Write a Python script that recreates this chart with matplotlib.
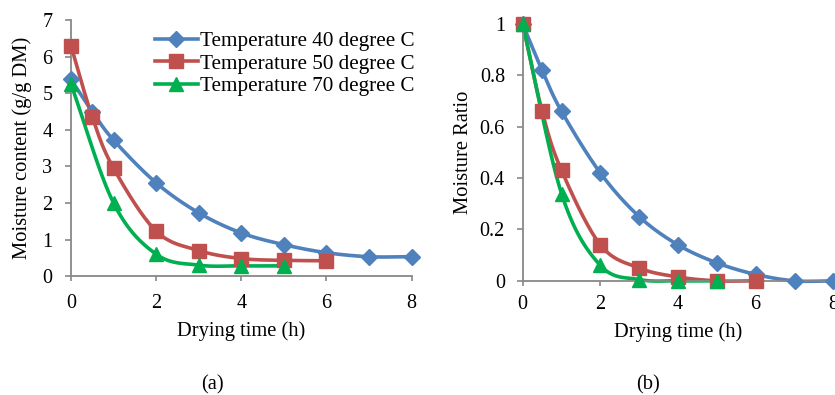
import numpy as np
import matplotlib.pyplot as plt

plt.rcParams['font.family'] = ['Liberation Serif', 'DejaVu Serif']

# Drying times (h)
t40 = [0, 0.5, 1, 2, 3, 4, 5, 6, 7, 8]
t50 = [0, 0.5, 1, 2, 3, 4, 5, 6]
t70 = [0, 1, 2, 3, 4, 5]

# Moisture content (g/g DM)
mc40 = [5.38, 4.50, 3.72, 2.55, 1.73, 1.18, 0.86, 0.64, 0.53, 0.53]
mc50 = [6.30, 4.35, 2.95, 1.23, 0.70, 0.48, 0.43, 0.42]
mc70 = [5.25, 2.00, 0.60, 0.30, 0.28, 0.28]

# Moisture ratio
mr40 = [1.0, 0.82, 0.66, 0.42, 0.25, 0.14, 0.07, 0.025, 0.0, 0.0]
mr50 = [1.0, 0.66, 0.43, 0.14, 0.05, 0.015, 0.0, 0.0]
mr70 = [1.0, 0.34, 0.06, 0.005, 0.0, 0.0]

labels = ['Temperature 40 degree C', 'Temperature 50 degree C', 'Temperature 70 degree C']
colors = ['#4F81BD', '#C0504D', '#00B050']
markers = ['D', 's', '^']
msizes = [8.5, 10, 10]


def smooth(x, y, n=20):
    # Catmull-Rom style curve, like the "smoothed line" option of a spreadsheet chart
    x = np.asarray(x, float)
    y = np.asarray(y, float)
    px = np.concatenate([[2 * x[0] - x[1]], x, [2 * x[-1] - x[-2]]])
    py = np.concatenate([[2 * y[0] - y[1]], y, [2 * y[-1] - y[-2]]])
    xs, ys = [], []
    s = np.linspace(0, 1, n)
    for i in range(1, len(px) - 2):
        for p, out in ((px, xs), (py, ys)):
            p0, p1, p2, p3 = p[i - 1], p[i], p[i + 1], p[i + 2]
            out.extend(0.5 * (2 * p1 + (-p0 + p2) * s + (2 * p0 - 5 * p1 + 4 * p2 - p3) * s ** 2
                              + (-p0 + 3 * p1 - 3 * p2 + p3) * s ** 3))
    return np.array(xs), np.array(ys)


def draw(ax, series, ypad, xpad, xlabelpad):
    for (x, y), lab, c, m, ms in zip(series, labels, colors, markers, msizes):
        xs, ys = smooth(x, y)
        ax.plot(xs, ys, color=c, lw=2.6, solid_capstyle='round', zorder=2, clip_on=False)
        ax.plot(x, y, ls='none', marker=m, ms=ms, color=c, zorder=3, clip_on=False)
        ax.plot([], [], color=c, lw=2.6, marker=m, ms=ms, label=lab)
    for s in ['top', 'right']:
        ax.spines[s].set_visible(False)
    for s in ['left', 'bottom']:
        ax.spines[s].set_color('#888888')
        ax.spines[s].set_linewidth(1.3)
    ax.tick_params(colors='#888888', labelcolor='black', labelsize=14.5, width=1.2)
    ax.tick_params(axis='x', length=3.8, pad=xpad)
    ax.tick_params(axis='y', length=4.2, pad=ypad)
    ax.set_xlim(0, 8)
    ax.set_xticks([0, 2, 4, 6, 8])
    ax.set_xlabel('Drying time (h)', fontsize=14.8, labelpad=xlabelpad)


fig = plt.figure(figsize=(8.35, 3.95), dpi=100)
ax1 = fig.add_axes([0.085, 0.301, 0.408, 0.648])
ax2 = fig.add_axes([0.626, 0.289, 0.372, 0.650])

draw(ax1, [(t40, mc40), (t50, mc50), (t70, mc70)], 9.2, 9.2, 6)
ax1.set_ylim(0, 7)
ax1.set_yticks(range(8))
ax1.set_ylabel('Moisture content (g/g DM)', fontsize=14.8, labelpad=7.5)
fig.legend(loc='upper left', bbox_to_anchor=(0.186, 0.92), frameon=False, fontsize=15.2,
           handlelength=2.0, handletextpad=0.1, labelspacing=0.12, borderpad=0, borderaxespad=0,
           handles=ax1.get_legend_handles_labels()[0])

draw(ax2, [(t40, mr40), (t50, mr50), (t70, mr70)], 8.6, 6.2, 6.5)
ax2.set_ylim(0, 1)
ax2.set_yticks([0, 0.2, 0.4, 0.6, 0.8, 1])
ax2.set_yticklabels(['0', '0.2', '0.4', '0.6', '0.8', '1'])
ax2.set_ylabel('Moisture Ratio', fontsize=14.8, labelpad=5)

fig.text(0.255, 0.015, '(a)', ha='center', fontsize=14.8)
fig.text(0.776, 0.015, '(b)', ha='center', fontsize=14.8)

fig.savefig('out.png', dpi=100)
